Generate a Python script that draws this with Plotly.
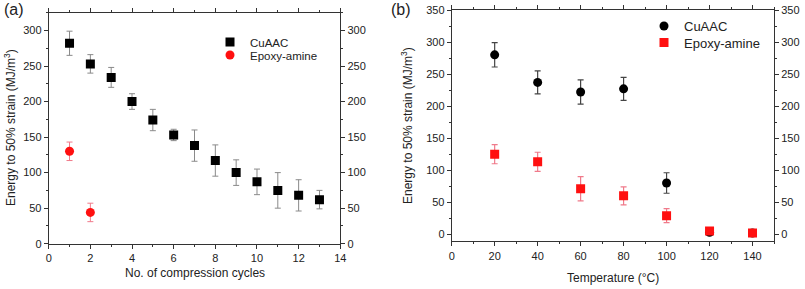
import plotly.graph_objects as go

# Panel (a)
cycles = [1, 2, 3, 4, 5, 6, 7, 8, 9, 10, 11, 12, 13]
cuaac_a = [282, 253, 234, 200, 174, 153, 138, 117, 100, 87, 75, 68, 62]
cuaac_a_err = [17, 13, 14, 11, 15, 8, 22, 22, 18, 18, 25, 22, 13]
epoxy_cycles = [1, 2]
epoxy_a = [130, 44]
epoxy_a_err = [13, 13]

# Panel (b)
temps = [20, 40, 60, 80, 100, 120, 140]
cuaac_b = [280, 237, 222, 227, 80, 3, 2]
cuaac_b_err = [19, 18, 19, 18, 16, 2, 2]
epoxy_b = [125, 113, 71, 60, 29, 5, 2]
epoxy_b_err = [15, 15, 19, 14, 11, 3, 2]

W, H = 805, 289
FONT = "Liberation Sans, Arial, sans-serif"

fig = go.Figure()

fig.add_trace(go.Scatter(
    x=cycles, y=cuaac_a, mode="markers", name="CuAAC",
    marker=dict(symbol="square", size=9, color="black"),
    error_y=dict(type="data", array=cuaac_a_err, color="#8a8a8a", thickness=1, width=3),
    xaxis="x", yaxis="y", legend="legend"))
fig.add_trace(go.Scatter(
    x=epoxy_cycles, y=epoxy_a, mode="markers", name="Epoxy-amine",
    marker=dict(symbol="circle", size=9, color="#ff1010"),
    error_y=dict(type="data", array=epoxy_a_err, color="#f07a8a", thickness=1, width=3),
    xaxis="x", yaxis="y", legend="legend3"))

fig.add_trace(go.Scatter(
    x=temps, y=cuaac_b, mode="markers", name="CuAAC",
    marker=dict(symbol="circle", size=9, color="black"),
    error_y=dict(type="data", array=cuaac_b_err, color="#444444", thickness=1.2, width=3),
    xaxis="x2", yaxis="y2", legend="legend2"))
fig.add_trace(go.Scatter(
    x=temps, y=epoxy_b, mode="markers", name="Epoxy-amine",
    marker=dict(symbol="square", size=9, color="#ff1010"),
    error_y=dict(type="data", array=epoxy_b_err, color="#f07a8a", thickness=1.2, width=3),
    xaxis="x2", yaxis="y2", legend="legend4"))

# invisible traces on the right-side axes so they get drawn
fig.add_trace(go.Scatter(x=[None], y=[None], xaxis="x", yaxis="y3", showlegend=False, hoverinfo="skip"))
fig.add_trace(go.Scatter(x=[None], y=[None], xaxis="x2", yaxis="y4", showlegend=False, hoverinfo="skip"))

tickfont = dict(family=FONT, size=11, color="#222")
titlefont = dict(family=FONT, size=12, color="#222")

common_axis = dict(showline=True, linecolor="#333", linewidth=1, ticks="outside",
                   ticklen=4, tickcolor="#333", showgrid=False, zeroline=False,
                   tickfont=tickfont, automargin=False)

xa_dom = [48.7 / W, 340.3 / W]
xb_dom = [451.7 / W, 774 / W]
ya_dom = [1 - 243.7 / H, 1 - 12.7 / H]
yb_dom = [1 - 241.3 / H, 1 - 10 / H]

minor_y = dict(dtick=25, ticks="outside", ticklen=2, tickcolor="#333")


def leg(xpx, ypx, size):
    return dict(x=xpx / W, y=1 - ypx / H, xanchor="left", yanchor="middle",
                bgcolor="rgba(0,0,0,0)", borderwidth=0,
                font=dict(family=FONT, size=size, color="#222"),
                itemwidth=30)


fig.update_layout(
    width=W, height=H,
    margin=dict(l=0, r=0, t=0, b=0),
    paper_bgcolor="white", plot_bgcolor="white",
    font=dict(family=FONT, color="#222"),
    xaxis=dict(domain=xa_dom, range=[0, 14], dtick=2, anchor="y", mirror="ticks",
               minor=dict(dtick=1, ticks="outside", ticklen=2, tickcolor="#333"),
               **common_axis),
    yaxis=dict(domain=ya_dom, range=[0, 325], dtick=50, anchor="x",
               minor=minor_y, **common_axis),
    yaxis3=dict(overlaying="y", side="right", anchor="x", range=[0, 325], dtick=50,
                minor=minor_y, **common_axis),
    xaxis2=dict(domain=xb_dom, range=[0, 150], dtick=20, anchor="y2", mirror="ticks",
                minor=dict(dtick=10, ticks="outside", ticklen=2, tickcolor="#333"),
                **common_axis),
    yaxis2=dict(domain=yb_dom, range=[-11, 350], dtick=50, anchor="x2",
                minor=minor_y, **common_axis),
    yaxis4=dict(overlaying="y2", side="right", anchor="x2", range=[-11, 350], dtick=50,
                minor=minor_y, **common_axis),
    legend=leg(210, 42, 11.5),
    legend3=leg(210, 55, 11.5),
    legend2=leg(644, 26, 13),
    legend4=leg(644, 42.5, 13),
    annotations=[
        dict(text="(a)", x=2 / W, y=1 - 10 / H, xref="paper", yref="paper",
             xanchor="left", yanchor="middle", showarrow=False,
             font=dict(family=FONT, size=16, color="#222")),
        dict(text="(b)", x=389 / W, y=1 - 10 / H, xref="paper", yref="paper",
             xanchor="left", yanchor="middle", showarrow=False,
             font=dict(family=FONT, size=16, color="#222")),
        dict(text="No. of compression cycles", x=194.5 / W, y=1 - 273 / H,
             xref="paper", yref="paper", xanchor="center", yanchor="middle",
             showarrow=False, font=titlefont),
        dict(text="Temperature (°C)", x=613 / W, y=1 - 278 / H,
             xref="paper", yref="paper", xanchor="center", yanchor="middle",
             showarrow=False, font=titlefont),
        dict(text="Energy to 50% strain (MJ/m<sup>3</sup>)", x=10 / W, y=1 - 128 / H,
             xref="paper", yref="paper", xanchor="center", yanchor="middle",
             textangle=-90, showarrow=False, font=titlefont),
        dict(text="Energy to 50% strain (MJ/m<sup>3</sup>)", x=407 / W, y=1 - 126 / H,
             xref="paper", yref="paper", xanchor="center", yanchor="middle",
             textangle=-90, showarrow=False, font=titlefont),
    ],
)

fig.write_html("out.html", config={"displayModeBar": False},
               post_script="document.body.style.margin='0';document.body.style.overflow='hidden';")
